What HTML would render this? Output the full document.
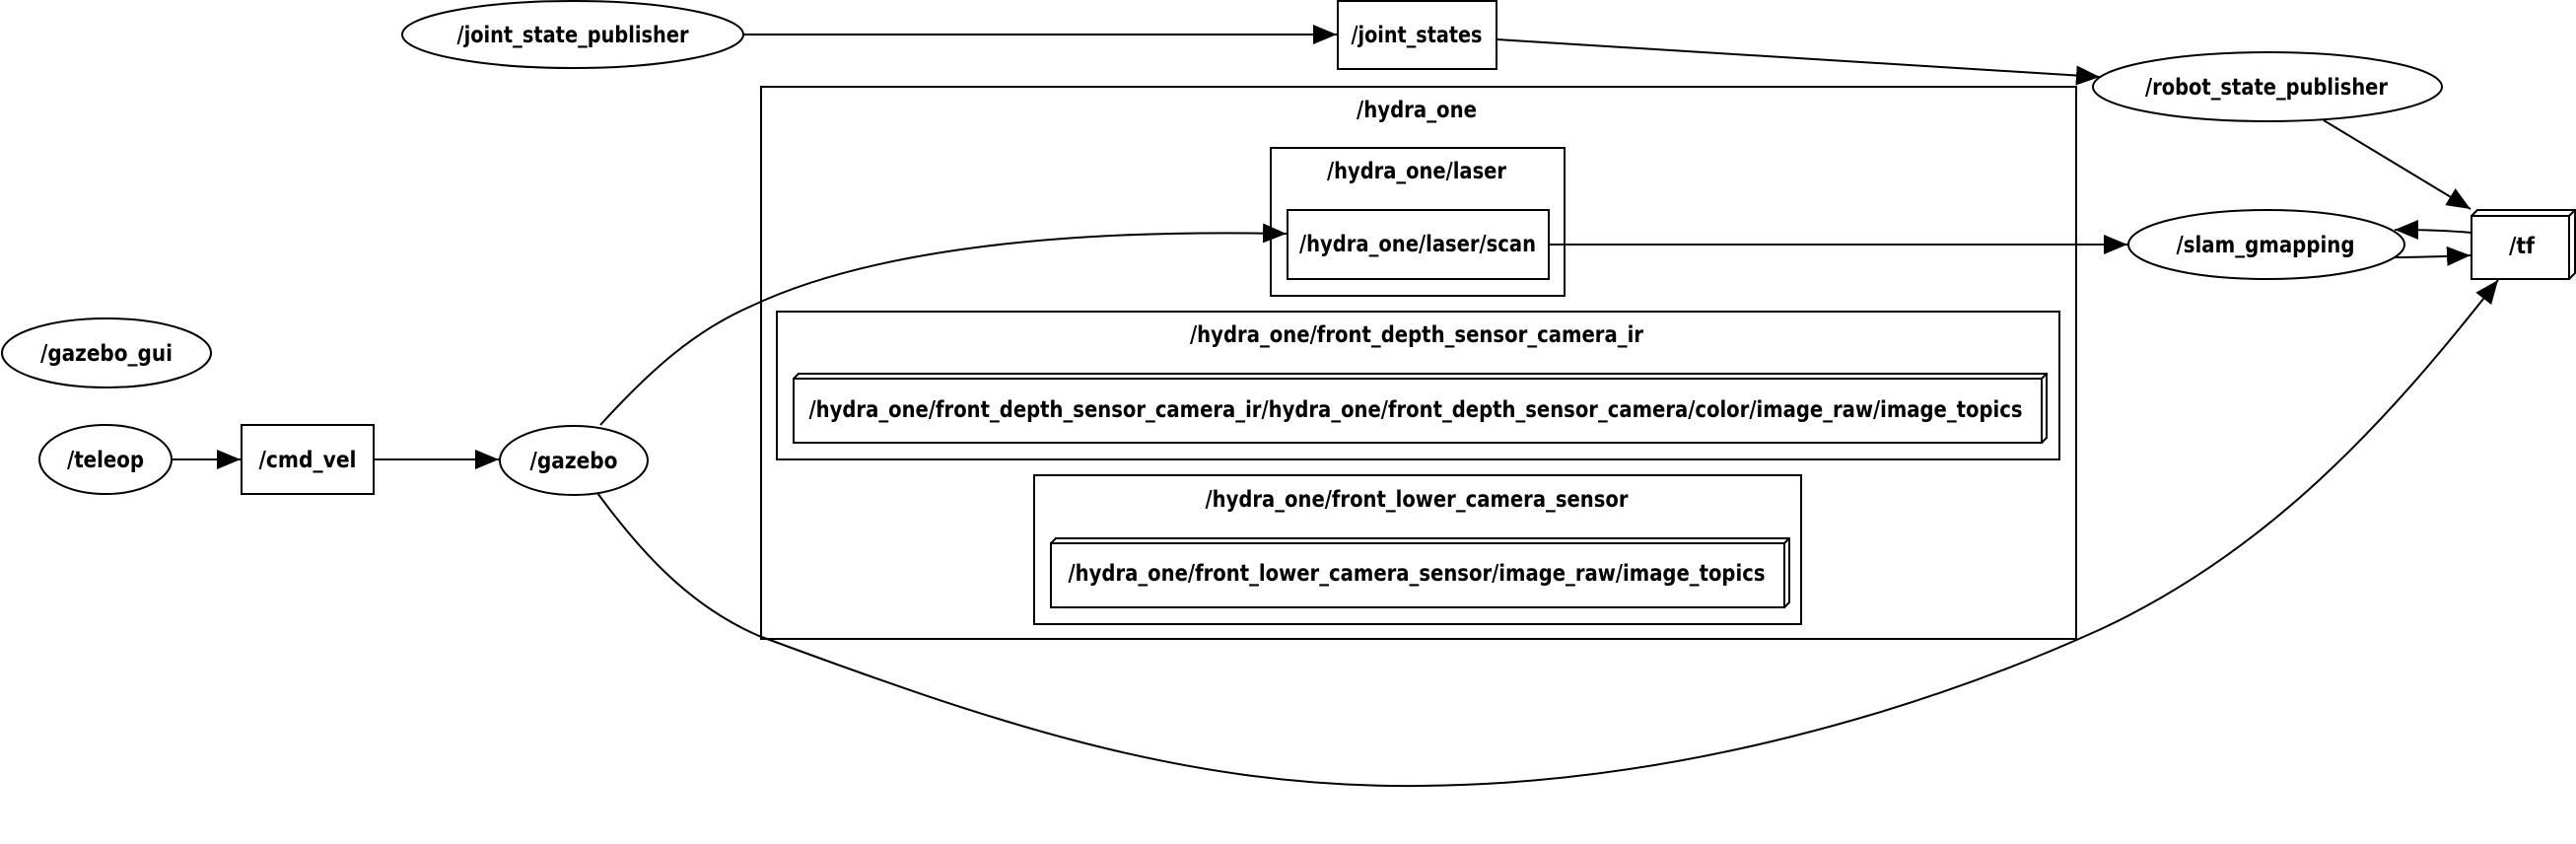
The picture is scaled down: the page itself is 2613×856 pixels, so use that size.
<!DOCTYPE html>
<html><head><meta charset="utf-8"><style>
html,body{margin:0;padding:0;background:#fff;}
svg{display:block;}
text{font-family:"DejaVu Sans Condensed","DejaVu Sans","Liberation Sans",sans-serif;font-weight:bold;font-size:23px;fill:#000;text-anchor:middle;dominant-baseline:central;}
.s{fill:none;stroke:#000;stroke-width:2;}
</style></head><body>
<svg width="2613" height="856" viewBox="0 0 2613 856" xmlns="http://www.w3.org/2000/svg">
<defs>
<marker id="b" viewBox="0 0 12 10" markerWidth="24" markerHeight="20" refX="12" refY="5" orient="auto" markerUnits="userSpaceOnUse">
<path d="M0,0 L12,5 L0,10 z" fill="#000"/>
</marker>
</defs>

<!-- clusters -->
<rect class="s" x="772" y="88" width="1334" height="560"/>
<text x="1437" y="112" textLength="122" lengthAdjust="spacingAndGlyphs">/hydra_one</text>
<rect class="s" x="1289" y="150" width="298" height="150"/>
<text x="1437" y="174" textLength="182" lengthAdjust="spacingAndGlyphs">/hydra_one/laser</text>
<rect class="s" x="788" y="316" width="1301" height="150"/>
<text x="1437" y="340" textLength="460" lengthAdjust="spacingAndGlyphs">/hydra_one/front_depth_sensor_camera_ir</text>
<rect class="s" x="1049" y="482" width="778" height="151"/>
<text x="1437" y="507" textLength="429" lengthAdjust="spacingAndGlyphs">/hydra_one/front_lower_camera_sensor</text>

<!-- nodes -->
<ellipse class="s" cx="581" cy="35" rx="173" ry="34"/>
<text x="581" y="36" textLength="235" lengthAdjust="spacingAndGlyphs">/joint_state_publisher</text>
<rect class="s" x="1357" y="1" width="161" height="69"/>
<text x="1437" y="36" textLength="133" lengthAdjust="spacingAndGlyphs">/joint_states</text>
<ellipse class="s" cx="2300" cy="88" rx="177" ry="35"/>
<text x="2299" y="89" textLength="246" lengthAdjust="spacingAndGlyphs">/robot_state_publisher</text>

<rect class="s" x="1306" y="213" width="265" height="70"/>
<text x="1438" y="248" textLength="240" lengthAdjust="spacingAndGlyphs">/hydra_one/laser/scan</text>

<path class="s" d="M805,384 L810,379 L2076,379 L2076,444 L2071,449"/>
<rect class="s" x="805" y="384" width="1266" height="65"/>
<line class="s" x1="2071" y1="384" x2="2076" y2="379"/>
<text x="1436" y="416" textLength="1231" lengthAdjust="spacingAndGlyphs">/hydra_one/front_depth_sensor_camera_ir/hydra_one/front_depth_sensor_camera/color/image_raw/image_topics</text>

<path class="s" d="M1066,551 L1071,546 L1815,546 L1815,611 L1810,616"/>
<rect class="s" x="1066" y="551" width="744" height="65"/>
<line class="s" x1="1810" y1="551" x2="1815" y2="546"/>
<text x="1437" y="582" textLength="707" lengthAdjust="spacingAndGlyphs">/hydra_one/front_lower_camera_sensor/image_raw/image_topics</text>

<ellipse class="s" cx="2299" cy="248" rx="140" ry="35"/>
<text x="2298" y="249" textLength="181" lengthAdjust="spacingAndGlyphs">/slam_gmapping</text>

<path class="s" d="M2507,219 L2513,213 L2612,213 L2612,277 L2606,283"/>
<rect class="s" x="2507" y="219" width="99" height="64"/>
<line class="s" x1="2606" y1="219" x2="2612" y2="213"/>
<text x="2558" y="250" textLength="26" lengthAdjust="spacingAndGlyphs">/tf</text>

<ellipse class="s" cx="108" cy="358" rx="106" ry="35"/>
<text x="108" y="359" textLength="134" lengthAdjust="spacingAndGlyphs">/gazebo_gui</text>
<ellipse class="s" cx="107" cy="466" rx="67" ry="35"/>
<text x="107" y="467" textLength="78" lengthAdjust="spacingAndGlyphs">/teleop</text>
<rect class="s" x="245" y="431" width="134" height="70"/>
<text x="312" y="467" textLength="99" lengthAdjust="spacingAndGlyphs">/cmd_vel</text>
<ellipse class="s" cx="582" cy="467" rx="75" ry="35"/>
<text x="582" y="468" textLength="89" lengthAdjust="spacingAndGlyphs">/gazebo</text>

<!-- edges -->
<line class="s" x1="754" y1="35" x2="1356" y2="35" marker-end="url(#b)"/>
<line class="s" x1="1518" y1="40" x2="2130" y2="78" marker-end="url(#b)"/>
<line class="s" x1="174" y1="466" x2="244" y2="466" marker-end="url(#b)"/>
<line class="s" x1="379" y1="466" x2="506" y2="466" marker-end="url(#b)"/>
<line class="s" x1="1571" y1="248" x2="2158" y2="248" marker-end="url(#b)"/>
<line class="s" x1="2357" y1="122" x2="2506" y2="212" marker-end="url(#b)"/>
<path class="s" d="M2507,236 C2485,234 2455,233 2429,233" marker-end="url(#b)"/>
<path class="s" d="M2429,261 C2455,261 2480,260 2506,259" marker-end="url(#b)"/>
<path class="s" d="M609,431 C660,375 705,335 763,310 C880,255 1070,232 1305,237" marker-end="url(#b)"/>
<path class="s" d="M606,500 C650,560 700,615 770,645 C1000,730 1200,800 1441,797 C1700,795 1950,720 2129,639 C2300,560 2420,430 2534,284" marker-end="url(#b)"/>
</svg>
</body></html>
